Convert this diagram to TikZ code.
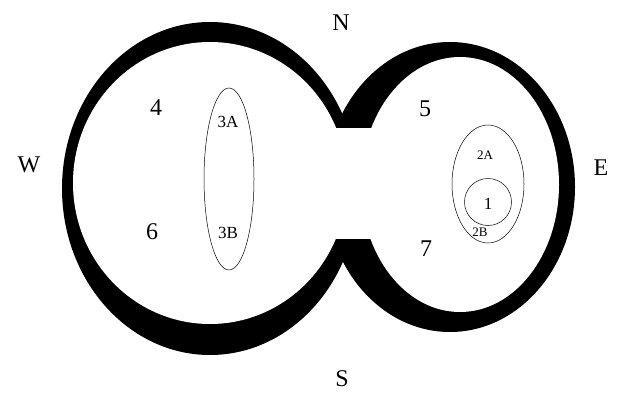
\documentclass[tikz,border=0pt]{standalone}
\usepackage{fontspec}
\setmainfont{Liberation Serif}
\begin{document}
\begin{tikzpicture}[x=1pt,y=-1pt,
  biglabel/.style={font=\fontsize{24}{24}\selectfont},
  midlabel/.style={font=\fontsize{17}{17}\selectfont},
  smalllabel/.style={font=\fontsize{13}{13}\selectfont},
  region/.style={draw,line width=0.5pt}]
\useasboundingbox (0,0) rectangle (618,396);

% outer black lobes
\fill[black] (210,188.5) ellipse [x radius=148,y radius=166.5];
\fill[black] (450,187) ellipse [x radius=125,y radius=145];

% inner white lobes and the neck between them
\fill[white] (210,183) ellipse [x radius=137,y radius=141];
\fill[white] (460,184.5) ellipse [x radius=99,y radius=127.5];
\fill[white] (335,128) rectangle (372,239);

% regions
\draw[region] (229,179) ellipse [x radius=25,y radius=91];
\draw[region] (488,184) ellipse [x radius=36,y radius=59];
\draw[region] (488,202) circle [radius=23.5];

% compass
\node[biglabel] (north) at (341,23) {N};
\node[biglabel] (south) at (342,379) {S};
\node[biglabel] (west) at (29,165) {W};
\node[biglabel] (east) at (601,168) {E};

% zones
\node[biglabel] (z4) at (156,108) {4};
\node[biglabel] (z5) at (425,109) {5};
\node[biglabel] (z6) at (152,232) {6};
\node[biglabel] (z7) at (426,249) {7};
\node[midlabel] (z3a) at (228,122) {3A};
\node[midlabel] (z3b) at (228,233) {3B};
\node[smalllabel] (z2a) at (485,155) {2A};
\node[smalllabel] (z2b) at (480,232) {2B};
\node[midlabel] (z1) at (488,204) {1};
\end{tikzpicture}
\end{document}
